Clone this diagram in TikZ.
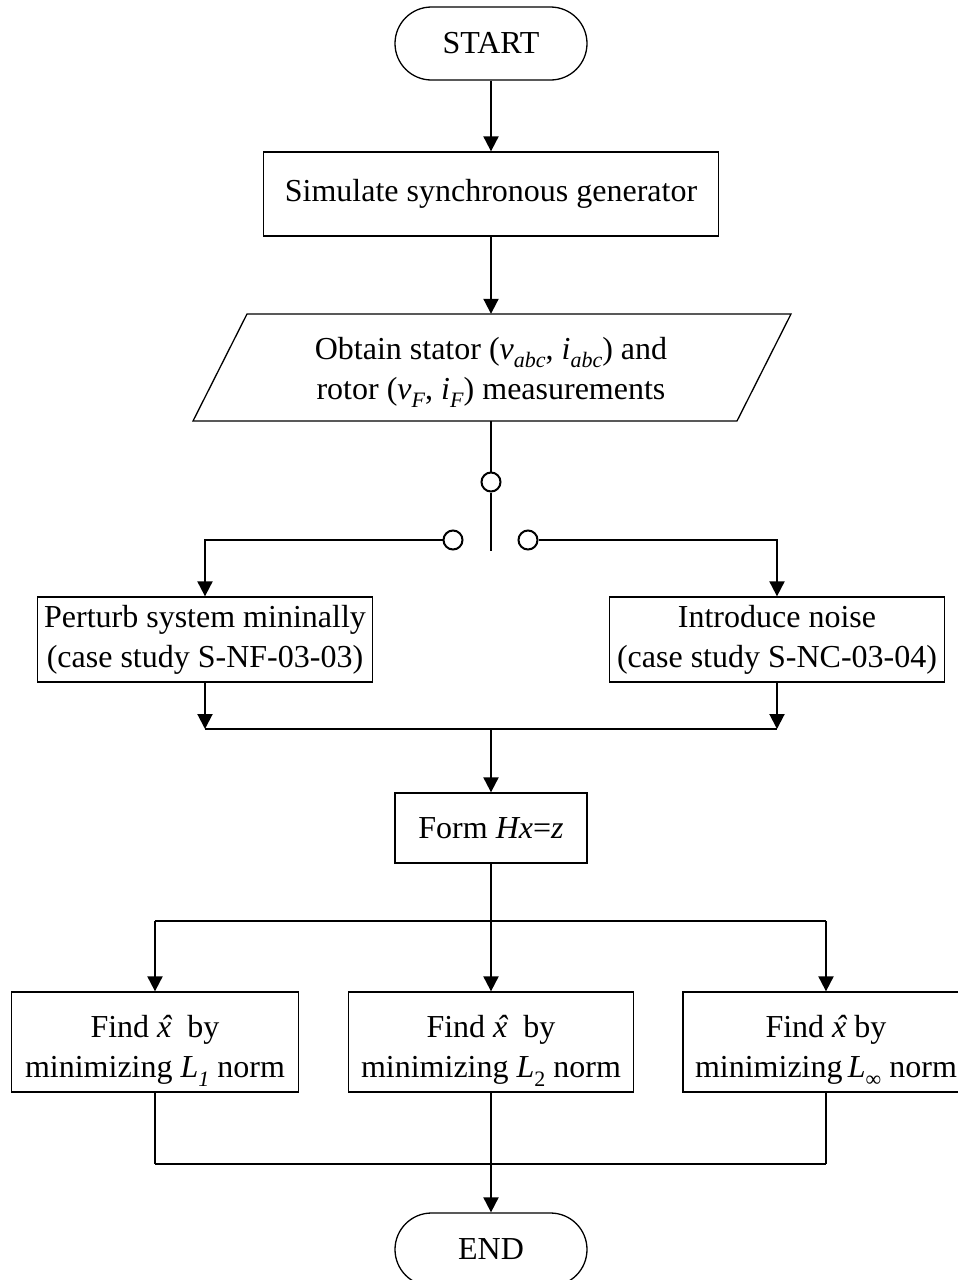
\documentclass[tikz,border=0pt]{standalone}
\usepackage{fontspec}
\setmainfont{Liberation Serif}
\usetikzlibrary{arrows.meta,shapes.misc}
% lowered italic-style subscript and hatted x
\newcommand\lowsub[1]{\raisebox{-0.26em}{\fontsize{22}{22}\selectfont #1}}
\newcommand\xhat{\textit{\rlap{\hspace{0.1em}ˆ}x}}
\begin{document}
\begin{tikzpicture}[x=1pt,y=-1pt,
  txt/.style={font=\fontsize{32}{40}\selectfont, align=center, inner sep=0pt},
  term/.style={txt, draw, line width=1.3pt, rounded rectangle, minimum width=192pt, minimum height=73pt},
  stepbox/.style={txt, draw, line width=1.3pt, rectangle},
  sw/.style={draw, circle, line width=2pt, minimum size=19pt, inner sep=0pt, fill=white},
  conn/.style={line width=2pt},
  arr/.style={conn, -{Triangle[length=15pt,width=15pt]}}]
\useasboundingbox (0,0) rectangle (958,1280);

% process blocks
\node[term] (start) at (491,43.5) {START};
\node[stepbox, minimum width=455pt, minimum height=84pt] (sim) at (491,194) {Simulate synchronous generator};
\node[txt, minimum width=544pt, minimum height=107pt] (obtain) at (491,367.5)
  {\rule{0pt}{1em}Obtain stator (\textit{v}\lowsub{\textit{abc}}, \textit{i}\lowsub{\textit{abc}}) and\\
   rotor (\textit{v}\lowsub{\textit{F}}, \textit{i}\lowsub{\textit{F}}) measurements};
\draw[line width=1.3pt] (193,421) -- (247,314) -- (791,314) -- (737,421) -- cycle;

% selector switch
\node[sw] (sw0) at (491,482) {};
\node[sw] (sw1) at (453,540) {};
\node[sw] (sw2) at (528,540) {};
\coordinate (blade) at (491,551);

\node[stepbox, minimum width=335pt, minimum height=85pt] (left) at (205,639.5)
  {Perturb system mininally\\(case study S-NF-03-03)};
\node[stepbox, minimum width=335pt, minimum height=85pt] (right) at (777,639.5)
  {Introduce noise\\(case study S-NC-03-04)};
\coordinate (jl) at (205,729);
\coordinate (jr) at (777,729);
\coordinate (jm) at (491,729);

\node[stepbox, minimum width=192pt, minimum height=70pt] (form) at (491,828) {Form \textit{Hx}=\textit{z}};
\coordinate (fm) at (491,921);
\coordinate (fl) at (155,921);
\coordinate (fr) at (826,921);

\node[stepbox, minimum width=287pt, minimum height=100pt] (b1) at (155,1042)
  {\rule{0pt}{1.25em}Find \xhat\ \ by\\minimizing \textit{L}\lowsub{\textit{1}} norm};
\node[stepbox, minimum width=285pt, minimum height=100pt] (b2) at (491,1042)
  {\rule{0pt}{1.25em}Find \xhat\ \ by\\minimizing \textit{L}\lowsub{2} norm};
\node[stepbox, minimum width=286pt, minimum height=100pt] (b3) at (826,1042)
  {\rule{0pt}{1.25em}Find \xhat\ by\\minimizing\,\textit{L}\lowsub{∞} norm};
\coordinate (el) at (155,1164);
\coordinate (er) at (826,1164);

\node[term] (end) at (491,1249.5) {END};

% connectors
\draw[arr] (start.south) -- (sim.north);
\draw[arr] (sim.south) -- (obtain.north);
\draw[conn] (obtain.south) -- (sw0.north);
\draw[conn] (sw0.south) -- (blade);
\draw[arr] (sw1.west) -| (left.north);
\draw[arr] (sw2.east) -| (right.north);
\draw[arr] (left.south) -- (jl);
\draw[arr] (right.south) -- (jr);
\draw[conn] (jl) -- (jr);
\draw[arr] (jm) -- (form.north);
\draw[conn] (form.south) -- (fm);
\draw[conn] (fl) -- (fr);
\draw[arr] (fl) -- (b1.north);
\draw[arr] (fm) -- (b2.north);
\draw[arr] (fr) -- (b3.north);
\draw[conn] (b1.south) -- (el);
\draw[conn] (b3.south) -- (er);
\draw[conn] (el) -- (er);
\draw[arr] (b2.south) -- (end.north);
\end{tikzpicture}
\end{document}
